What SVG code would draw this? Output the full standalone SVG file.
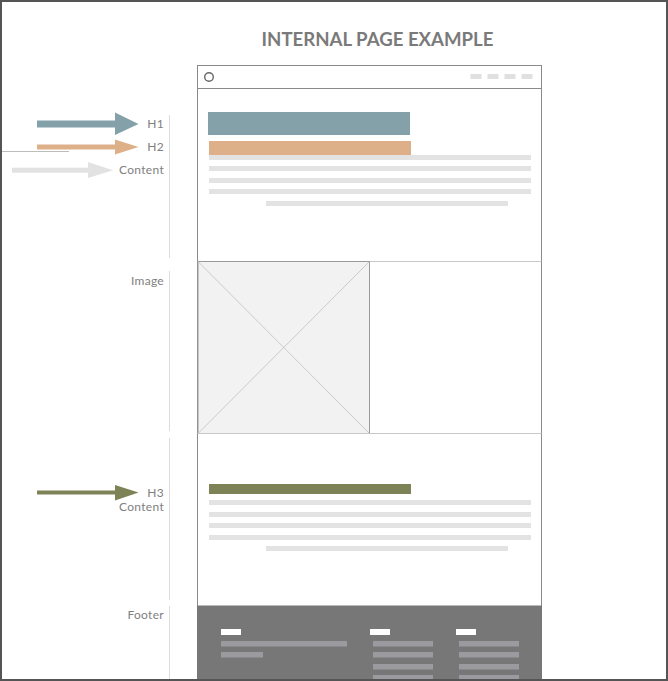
<svg xmlns="http://www.w3.org/2000/svg" width="668" height="681" viewBox="0 0 668 681">
<style>
.lbl{font-family:Lato,"Open Sans","Liberation Sans",sans-serif;font-size:12px;letter-spacing:0.3px;fill:#808080;text-anchor:end}
.title{font-family:Lato,"Open Sans","Liberation Sans",sans-serif;font-size:18.6px;font-weight:bold;fill:#7a7a7a;text-anchor:middle}
.ln{fill:#e3e3e4}
.fl{fill:#9b9b9f}
.fw{fill:#ffffff}
.sep{stroke:#dcdcdc;stroke-width:1;fill:none}
.frame{stroke:#8a8a8a;stroke-width:1;fill:none}
</style>
<rect x="0" y="0" width="668" height="681" fill="#ffffff"/>
<text class="title" x="377.5" y="45.5">INTERNAL PAGE EXAMPLE</text>

<g id="browser">
<rect x="197.5" y="65.5" width="344" height="620" fill="#ffffff" class="frame"/>
<line x1="197.5" y1="88.5" x2="541.5" y2="88.5" class="frame"/>
<circle cx="209" cy="77" r="4.3" fill="none" stroke="#666" stroke-width="1.4"/>
<rect x="470.5" y="74" width="11" height="5" fill="#e0e0e0"/>
<rect x="487.5" y="74" width="11" height="5" fill="#e0e0e0"/>
<rect x="504.5" y="74" width="11" height="5" fill="#e0e0e0"/>
<rect x="521.5" y="74" width="11" height="5" fill="#e0e0e0"/>
</g>

<g id="section-intro">
<rect x="208" y="112" width="202" height="23" fill="#84a1aa"/>
<rect x="209" y="141" width="202" height="14" fill="#deb08a"/>
<rect class="ln" x="209" y="155" width="322" height="5"/>
<rect class="ln" x="209" y="166" width="322" height="5"/>
<rect class="ln" x="209" y="178" width="322" height="5"/>
<rect class="ln" x="209" y="189" width="322" height="5"/>
<rect class="ln" x="266" y="201" width="242" height="5"/>
</g>

<g id="section-image">
<line x1="197.5" y1="261.5" x2="541.5" y2="261.5" stroke="#c8c8c8" stroke-width="1"/>
<rect x="198" y="261.5" width="171.5" height="172" fill="#f2f2f2" stroke="#9a9a9a" stroke-width="1"/>
<line x1="198" y1="261.5" x2="369.5" y2="433.5" stroke="#c0c0c0" stroke-width="0.8"/>
<line x1="369.5" y1="261.5" x2="198" y2="433.5" stroke="#c0c0c0" stroke-width="0.8"/>
<line x1="197.5" y1="433.5" x2="541.5" y2="433.5" stroke="#c8c8c8" stroke-width="1"/>
</g>

<g id="section-content">
<rect x="209" y="484" width="202" height="10" fill="#7e8257"/>
<rect class="ln" x="209" y="500" width="322" height="5"/>
<rect class="ln" x="209" y="512" width="322" height="5"/>
<rect class="ln" x="209" y="523" width="322" height="5"/>
<rect class="ln" x="209" y="535" width="322" height="5"/>
<rect class="ln" x="266" y="546" width="242" height="5"/>
</g>

<g id="section-footer">
<rect x="197" y="605.5" width="345" height="76" fill="#777777"/>
<rect class="fw" x="221" y="629" width="20" height="6"/>
<rect class="fw" x="370" y="629" width="20" height="6"/>
<rect class="fw" x="456" y="629" width="20" height="6"/>
<rect class="fl" x="221" y="641" width="126" height="5.5"/>
<rect class="fl" x="221" y="652" width="42" height="5.5"/>
<rect class="fl" x="373" y="641" width="60" height="5.5"/>
<rect class="fl" x="373" y="652" width="60" height="5.5"/>
<rect class="fl" x="373" y="664" width="60" height="5.5"/>
<rect class="fl" x="373" y="675" width="60" height="5.5"/>
<rect class="fl" x="459" y="641" width="60" height="5.5"/>
<rect class="fl" x="459" y="652" width="60" height="5.5"/>
<rect class="fl" x="459" y="664" width="60" height="5.5"/>
<rect class="fl" x="459" y="675" width="60" height="5.5"/>
</g>

<g id="labels">
<text class="lbl" x="164" y="128">H1</text>
<text class="lbl" x="164" y="151">H2</text>
<text class="lbl" x="164" y="174">Content</text>
<text class="lbl" x="164" y="285">Image</text>
<text class="lbl" x="164" y="496.5">H3</text>
<text class="lbl" x="164" y="510.5">Content</text>
<text class="lbl" x="164" y="619">Footer</text>
</g>

<g id="connectors">
<line class="sep" x1="169.5" y1="115" x2="169.5" y2="258"/>
<line class="sep" x1="169.5" y1="271" x2="169.5" y2="431"/>
<line class="sep" x1="169.5" y1="438" x2="169.5" y2="600"/>
<line class="sep" x1="169.5" y1="606" x2="169.5" y2="681"/>
<line x1="2" y1="151.5" x2="69" y2="151.5" stroke="#bdbdbd" stroke-width="1"/>
<g id="arrow-h1">
<rect x="37" y="120.5" width="79" height="7" fill="#84a1aa"/>
<polygon points="115,112.5 138.5,124 115,135" fill="#84a1aa"/>
</g>
<g id="arrow-h2">
<rect x="37" y="144.5" width="79" height="5" fill="#deb08a"/>
<polygon points="115,139.5 138.5,147 115,154.5" fill="#deb08a"/>
</g>
<g id="arrow-content">
<rect x="12" y="167.7" width="77" height="5" fill="#e2e2e2"/>
<polygon points="88,162 113,170.2 88,178" fill="#e2e2e2"/>
</g>
<g id="arrow-h3">
<rect x="37" y="490.5" width="79" height="4" fill="#7e8257"/>
<polygon points="115,485 138.5,492.5 115,500.5" fill="#7e8257"/>
</g>
</g>

<rect x="1" y="1" width="666" height="679" fill="none" stroke="#555555" stroke-width="2"/>
</svg>
